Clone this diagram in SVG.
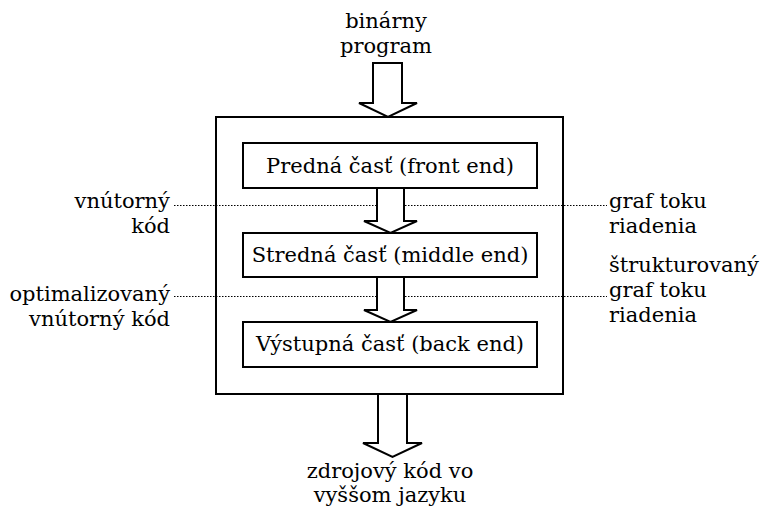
<svg xmlns="http://www.w3.org/2000/svg" width="760" height="508" viewBox="0 0 760 508">
  <style>
    text { font-family: "DejaVu Serif", "Liberation Serif", serif; font-size: 21px; fill: #000; }
    .box { fill: #fff; stroke: #000; stroke-width: 2; }
    .arrow { fill: #fff; stroke: #000; stroke-width: 2; stroke-linejoin: miter; }
    .dot { stroke: #000; stroke-width: 1; stroke-dasharray: 1.5 1.5; fill: none; }
    .mid { text-anchor: middle; }
    .end { text-anchor: end; }
  </style>
  <rect width="760" height="508" fill="#fff"/>

  <!-- enclosing decompiler frame -->
  <g id="frame">
    <rect class="box" x="216" y="117" width="347" height="277"/>
  </g>

  <g id="connectors">
    <!-- dotted intermediate-representation lines -->
    <line class="dot" x1="174" y1="205.5" x2="607" y2="205.5"/>
    <line class="dot" x1="174" y1="296.5" x2="607" y2="296.5"/>
    <!-- block arrows -->
    <path class="arrow" d="M373,63 H402 V103 H417 L388,117 L359,103 H373 Z"/>
    <path class="arrow" d="M377,188 H404 V221 H417 L390.5,233 L364,221 H377 Z"/>
    <path class="arrow" d="M377,277 H404 V310 H417 L390.5,322 L364,310 H377 Z"/>
    <path class="arrow" d="M378,394 H407 V443 H422 L392.5,457 L363,443 H378 Z"/>
  </g>

  <g id="front-end">
    <rect class="box" x="243" y="143" width="294" height="45"/>
    <text class="mid" x="390" y="173">Predná časť (front end)</text>
  </g>
  <g id="middle-end">
    <rect class="box" x="243" y="233" width="294" height="44"/>
    <text class="mid" x="390" y="262">Stredná časť (middle end)</text>
  </g>
  <g id="back-end">
    <rect class="box" x="243" y="322" width="294" height="45"/>
    <text class="mid" x="390" y="351">Výstupná časť (back end)</text>
  </g>

  <g id="input">
    <text class="mid" x="386" y="28">binárny</text>
    <text class="mid" x="386" y="53">program</text>
  </g>
  <g id="output">
    <text class="mid" x="390" y="478">zdrojový kód vo</text>
    <text class="mid" x="390" y="502">vyššom jazyku</text>
  </g>

  <g id="label-ir">
    <text class="end" x="170" y="208">vnútorný</text>
    <text class="end" x="170" y="233">kód</text>
  </g>
  <g id="label-opt-ir">
    <text class="end" x="170" y="301">optimalizovaný</text>
    <text class="end" x="170" y="326">vnútorný kód</text>
  </g>
  <g id="label-cfg">
    <text x="609" y="208">graf toku</text>
    <text x="609" y="233">riadenia</text>
  </g>
  <g id="label-scfg">
    <text x="609" y="272">štrukturovaný</text>
    <text x="609" y="297">graf toku</text>
    <text x="609" y="322">riadenia</text>
  </g>
</svg>
